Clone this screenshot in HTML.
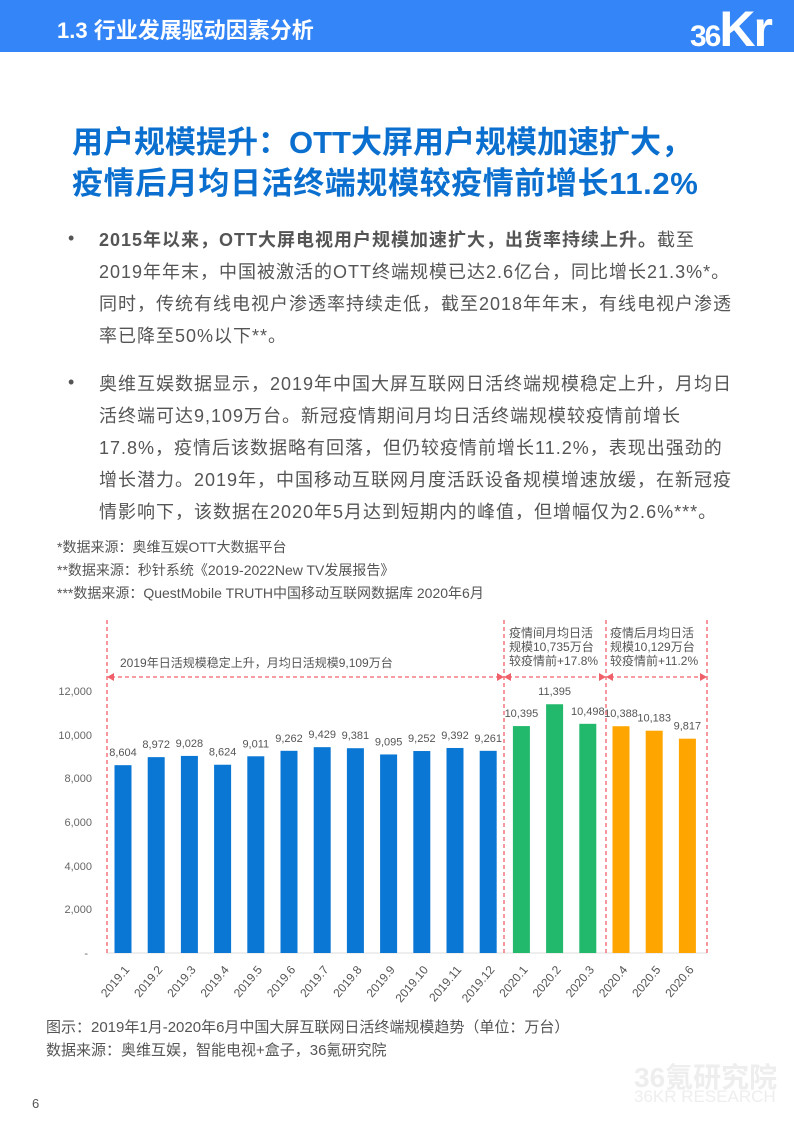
<!DOCTYPE html>
<html><head><meta charset="utf-8"><style>
body{margin:0;width:794px;height:1123px;position:relative;background:#fff;font-family:"Liberation Sans","Noto Sans CJK SC",sans-serif;overflow:hidden}
.a{position:absolute;white-space:nowrap}
.hdr{position:absolute;left:0;top:0;width:794px;height:52px;background:#3385f8}
.t{color:#0a6fce;font-weight:bold;font-size:31px;left:72px}
.p{color:#555;font-size:18px;left:99px;line-height:32px;letter-spacing:1px}
.dot{color:#555;font-size:18px;left:68px}
.s{color:#555;font-size:14px;left:57px}
</style></head><body>
<div class="hdr"></div>
<div class="a" style="left:57px;top:13px;color:#fff;font-size:22px;font-weight:bold">1.3 行业发展驱动因素分析</div>
<div class="a" style="left:690px;top:0px;color:#fff;font-size:30px;font-weight:bold;letter-spacing:-2px">36<span style="font-size:50px">Kr</span></div>
<div class="a t" style="top:117px">用户规模提升：OTT大屏用户规模加速扩大，</div>
<div class="a t" style="top:158px;letter-spacing:0.6px">疫情后月均日活终端规模较疫情前增长11.2%</div>
<div class="a dot" style="top:228px">•</div>
<div class="a p" style="top:224px"><b>2015年以来，OTT大屏电视用户规模加速扩大，出货率持续上升。</b>截至<br>2019年年末，中国被激活的OTT终端规模已达2.6亿台，同比增长21.3%*。<br>同时，传统有线电视户渗透率持续走低，截至2018年年末，有线电视户渗透<br>率已降至50%以下**。</div>
<div class="a dot" style="top:372px">•</div>
<div class="a p" style="top:368px">奥维互娱数据显示，2019年中国大屏互联网日活终端规模稳定上升，月均日<br>活终端可达9,109万台。新冠疫情期间月均日活终端规模较疫情前增长<br>17.8%，疫情后该数据略有回落，但仍较疫情前增长11.2%，表现出强劲的<br>增长潜力。2019年，中国移动互联网月度活跃设备规模增速放缓，在新冠疫<br>情影响下，该数据在2020年5月达到短期内的峰值，但增幅仅为2.6%***。</div>
<div class="a s" style="top:537px">*数据来源：奥维互娱OTT大数据平台</div>
<div class="a s" style="top:560px">**数据来源：秒针系统《2019-2022New TV发展报告》</div>
<div class="a s" style="top:583px">***数据来源：QuestMobile TRUTH中国移动互联网数据库 2020年6月</div>
<svg class="a" style="left:0;top:0" width="794" height="1123" font-family="Liberation Sans,Noto Sans CJK SC,sans-serif">
<g fill="#666" font-size="11" text-anchor="end">
<text x="92" y="695">12,000</text><text x="92" y="739">10,000</text><text x="92" y="782">8,000</text><text x="92" y="826">6,000</text><text x="92" y="870">4,000</text><text x="92" y="913">2,000</text><text x="88" y="957">-</text>
</g>
<line x1="107" y1="953" x2="707" y2="953" stroke="#ddd"/>
<g stroke="#f0606a" stroke-width="1.3" stroke-dasharray="4,3" fill="none">
<line x1="107" y1="620" x2="107" y2="953"/><line x1="504" y1="620" x2="504" y2="953"/><line x1="606" y1="620" x2="606" y2="953"/><line x1="707" y1="620" x2="707" y2="953"/>
<line x1="111" y1="677" x2="500" y2="677"/><line x1="508" y1="677" x2="602" y2="677"/><line x1="610" y1="677" x2="703" y2="677"/>
</g>
<g fill="#f0606a">
<path d="M107 677l7-4v8z"/><path d="M504 677l-7-4v8z"/><path d="M504 677l7-4v8z"/><path d="M606 677l-7-4v8z"/><path d="M606 677l7-4v8z"/><path d="M707 677l-7-4v8z"/>
</g>
<g fill="#555" font-size="12">
<text x="120" y="667">2019年日活规模稳定上升，月均日活规模9,109万台</text>
<text x="509" y="637">疫情间月均日活</text><text x="509" y="651">规模10,735万台</text><text x="509" y="665">较疫情前+17.8%</text>
<text x="610" y="637">疫情后月均日活</text><text x="610" y="651">规模10,129万台</text><text x="610" y="665">较疫情前+11.2%</text>
</g>
<g id="bars"></g>
<g id="lbl" fill="#555" font-size="11" text-anchor="middle"></g>
<g id="xl" fill="#555" font-size="12" text-anchor="end"></g>
</svg>
<div class="a" style="left:46px;top:1016px;color:#555;font-size:15px">图示：2019年1月-2020年6月中国大屏互联网日活终端规模趋势（单位：万台）</div>
<div class="a" style="left:46px;top:1039px;color:#555;font-size:15px">数据来源：奥维互娱，智能电视+盒子，36氪研究院</div>
<div class="a" style="left:634px;top:1056px;color:#eee;font-size:28px;font-weight:bold">36氪研究院</div>
<div class="a" style="left:634px;top:1087px;color:#eee;font-size:17px">36KR RESEARCH</div>
<div class="a" style="left:32px;top:1096px;color:#555;font-size:13px">6</div>
<script>
var v=[8604,8972,9028,8624,9011,9262,9429,9381,9095,9252,9392,9261,10395,11395,10498,10388,10183,9817];
var n=["2019.1","2019.2","2019.3","2019.4","2019.5","2019.6","2019.7","2019.8","2019.9","2019.10","2019.11","2019.12","2020.1","2020.2","2020.3","2020.4","2020.5","2020.6"];
var b="",l="",x="";
for(var i=0;i<18;i++){var c=123+i*33.2,h=v[i]*0.02183,y=953-h;var col=i<12?"#0a77d4":i<15?"#22b96c":"#ffa500";
b+='<rect x="'+(c-8.5)+'" y="'+y+'" width="17" height="'+h+'" fill="'+col+'"/>';
l+='<text x="'+c+'" y="'+(y-9)+'">'+v[i].toLocaleString("en-US")+'</text>';
x+='<text transform="translate('+(c+7)+',970) rotate(-50)">'+n[i]+'</text>';}
document.getElementById("bars").innerHTML=b;document.getElementById("lbl").innerHTML=l;document.getElementById("xl").innerHTML=x;
</script>
</body></html>
